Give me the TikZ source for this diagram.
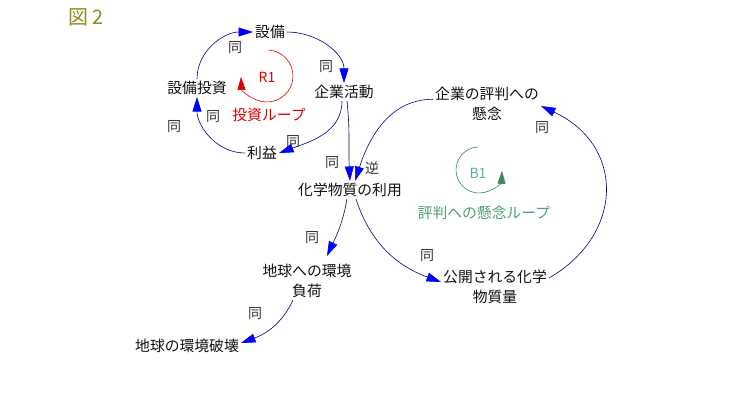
\documentclass[tikz,border=0pt]{standalone}
\usepackage{fontspec}
\setmainfont{Noto Sans CJK JP}
\newfontfamily\jp{Noto Sans CJK JP}
\usetikzlibrary{arrows.meta}
\definecolor{lnavy}{HTML}{000080}
\definecolor{abulue}{HTML}{0000FF}
\definecolor{rred}{HTML}{E00000}
\definecolor{bgreen}{HTML}{3C8C5A}
\definecolor{tgreen}{HTML}{4E9E6E}
\definecolor{olive}{HTML}{8C8C1E}
\definecolor{txt}{HTML}{111111}
\begin{document}
\begin{tikzpicture}[x=1pt,y=-1pt,
  nd/.style={inner sep=2pt,font=\jp\fontsize{14.8}{20}\selectfont,text=txt,align=center},
  lb/.style={inner sep=0pt,font=\jp\fontsize{14}{16}\selectfont,text=txt!85},
  cn/.style={draw=lnavy,line width=0.6pt,-{Triangle[length=14.5pt,width=9pt,color=abulue]}}]
\useasboundingbox (0,0) rectangle (739,412);
\fill[white] (0,0) rectangle (739,412);
\node[inner sep=0pt,font=\jp\fontsize{20}{22}\selectfont,text=olive] (fig) at (86,17) {図\,2};

\node[nd] (sb) at (270,32) {設備};
\node[nd] (sbt) at (197,88) {設備投資};
\node[nd] (kk) at (344,92) {企業活動};
\node[nd] (rieki) at (262,153) {利益};
\node[nd] (kg) at (350,190) {化学物質の利用};
\node[nd] (kn) at (487,104) {企業の評判への\\懸念};
\node[nd] (kou) at (495,287) {公開される化学\\物質量};
\node[nd] (kf) at (307,281) {地球への環境\\負荷};
\node[nd] (kh) at (187,346) {地球の環境破壊};

% connectors
\draw[cn] (sbt.north) to[out=90,in=180] (sb.west);
\draw[cn] (sb.east) to[out=0,in=90] (kk.north);
\draw[cn] ([xshift=-2pt]kk.south) to[out=-90,in=20] (rieki.east);
\draw[cn] (rieki.west) to[out=180,in=-90] (sbt.south);
\draw[cn] ([xshift=3pt]kk.south) to[out=-84,in=93] (kg.north);
\draw[cn] (kn.175) to[out=180,in=72] ([xshift=5pt]kg.north);
\draw[cn] ([xshift=6pt]kg.south) to[out=-72,in=160] ([yshift=5pt]kou.west);
\draw[cn] ([yshift=9pt]kou.east) .. controls +(30:87pt) and +(-25:93pt) .. ([yshift=-2pt]kn.east);
\draw[cn] ([xshift=-3pt]kg.south) to[out=-100,in=65] ([xshift=20pt,yshift=6pt]kf.north);
\draw[cn] ([xshift=-14pt]kf.south) to[out=-115,in=20] ([yshift=3pt]kh.east);

% polarity labels
\node[lb] (l1) at (235,48) {同};
\node[lb] (l2) at (326,67) {同};
\node[lb] (l3) at (174,127) {同};
\node[lb] (l4) at (213,117) {同};
\node[lb] (l5) at (293,142) {同};
\node[lb] (l6) at (332,163) {同};
\node[lb] (l7) at (372,168) {逆};
\node[lb] (l8) at (542,128) {同};
\node[lb] (l9) at (312,238) {同};
\node[lb] (l10) at (427,256) {同};
\node[lb] (l11) at (255,314) {同};

% loop R1
\coordinate (r1c) at (267,76);
\draw[rred,line width=0.6pt,-{Triangle[length=13pt,width=8pt]}] ([shift={(87:26pt)}]r1c) arc[start angle=87,end angle=-178,radius=26pt];
\node[inner sep=0pt,font=\jp\fontsize{14}{16}\selectfont,text=rred] (r1) at (267,77) {R1};
\node[inner sep=0pt,font=\jp\fontsize{14.8}{16}\selectfont,text=rred] (r1t) at (269,115) {投資ループ};

% loop B1
\coordinate (b1c) at (479,170);
\draw[bgreen,line width=0.6pt,-{Triangle[length=13pt,width=8pt]}] ([shift={(93:23pt)}]b1c) arc[start angle=93,end angle=358,radius=23pt];
\node[inner sep=0pt,font=\jp\fontsize{14}{16}\selectfont,text=tgreen!85] (b1) at (478,173) {B1};
\node[inner sep=0pt,font=\jp\fontsize{14.8}{16}\selectfont,text=tgreen] (b1t) at (484,213) {評判への懸念ループ};
\end{tikzpicture}
\end{document}
